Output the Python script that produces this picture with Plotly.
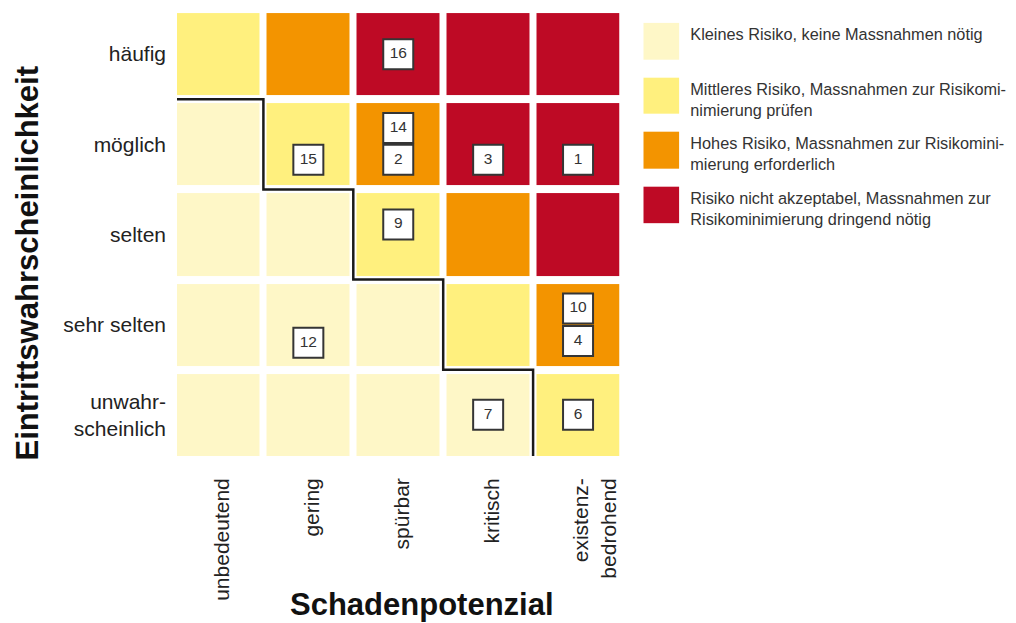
import plotly.graph_objects as go

# ---------------- data ----------------
likelihood = ["unwahr-<br>scheinlich", "sehr selten", "selten", "möglich", "häufig"]  # bottom -> top
damage = ["unbedeutend", "gering", "spürbar", "kritisch", "\u00a0<br>existenz-<br>bedrohend"]

# risk level per cell (0 = klein, 1 = mittel, 2 = hoch, 3 = nicht akzeptabel), rows bottom -> top
risk_level = [
    [0, 0, 0, 0, 1],   # unwahrscheinlich
    [0, 0, 0, 1, 2],   # sehr selten
    [0, 0, 1, 2, 3],   # selten
    [0, 1, 2, 3, 3],   # möglich
    [1, 2, 3, 3, 3],   # häufig
]

level_labels = [
    "Kleines Risiko, keine Massnahmen nötig<br>\u00a0",
    "Mittleres Risiko, Massnahmen zur Risikomi-<br>nimierung prüfen",
    "Hohes Risiko, Massnahmen zur Risikomini-<br>mierung erforderlich",
    "Risiko nicht akzeptabel, Massnahmen zur<br>Risikominimierung dringend nötig",
]

risk_ids = [16, 14, 2, 15, 3, 1, 9, 12, 10, 4, 7, 6]
risk_damage = [2, 2, 2, 1, 3, 4, 2, 1, 4, 4, 3, 4]       # column index
risk_likelihood = [4, 3, 3, 3, 3, 3, 2, 1, 1, 1, 0, 0]   # row index

# ---------------- style ----------------
colors = ["#FEF7C7", "#FFF07E", "#F39400", "#BE0A25"]
FONT = "Liberation Sans, Arial, sans-serif"
# vertical placement of each numbered box inside its cell (data units)
box_shift = {16: 0.0, 14: 0.18, 2: -0.17, 15: -0.17, 3: -0.17, 1: -0.17,
             9: 0.11, 12: -0.2, 10: 0.18, 4: -0.18, 7: 0.0, 6: 0.0}
xlabel_shift = 0.04
legend_label_shift = 0.07

colorscale = []
for i, c in enumerate(colors):
    colorscale += [[i / len(colors), c], [(i + 1) / len(colors), c]]

fig = go.Figure()

fig.add_trace(go.Heatmap(
    z=risk_level, x=list(range(len(damage))), y=list(range(len(likelihood))),
    colorscale=colorscale, zmin=-0.5, zmax=3.5, showscale=False,
    xgap=7, ygap=8, hoverinfo="skip",
))

# staircase boundary of the "klein" zone, derived from the matrix
n_zero = [sum(1 for r in range(len(likelihood)) if risk_level[r][c] == 0) for c in range(len(damage))]
sx, sy = [], []
for c, nz in enumerate(n_zero):
    sx += [c - 0.5, c + 0.5]
    sy += [nz - 0.5, nz - 0.5]
fig.add_trace(go.Scatter(x=sx, y=sy, mode="lines", line=dict(color="#1a1a1a", width=2.5),
                         hoverinfo="skip", showlegend=False))

fig.add_trace(go.Scatter(
    x=risk_damage,
    y=[l + box_shift[i] for l, i in zip(risk_likelihood, risk_ids)],
    mode="markers+text", text=[str(i) for i in risk_ids], textposition="middle center",
    textfont=dict(family=FONT, size=15.5, color="#333333"),
    marker=dict(symbol="square", size=30, color="white", line=dict(color="#353535", width=2)),
    hoverinfo="skip", showlegend=False,
))

# legend as a small heatmap column with labels
fig.add_trace(go.Heatmap(
    z=[[i] for i in range(len(colors))], x=[0], y=list(range(len(colors))),
    colorscale=colorscale, zmin=-0.5, zmax=3.5, showscale=False, ygap=18,
    xaxis="x2", yaxis="y2", hoverinfo="skip",
))

W, H = 1016, 623
L, R, T, B = 177, 16, 13, 167
pw, ph = W - L - R, H - T - B
dx, dy = 0.039, 0.044
dl = 0.165

noaxis = dict(showgrid=False, zeroline=False, showline=False, ticks="", automargin=False)

fig.update_layout(
    width=W, height=H, margin=dict(l=L, r=R, t=T, b=B, autoexpand=False),
    paper_bgcolor="white", plot_bgcolor="white",
    font=dict(family=FONT, color="#222222"),
    showlegend=False,
    xaxis=dict(domain=[0, 442.5 / pw], range=[-0.5 + dx, 4.5 - dx],
               tickvals=[i + xlabel_shift for i in range(len(damage))], ticktext=damage, tickangle=-90,
               tickfont=dict(size=21, color="#222222"), ticklabelstandoff=17, **noaxis),
    yaxis=dict(domain=[0, 1], range=[-0.5 + dy, 4.5 - dy],
               tickvals=list(range(len(likelihood))), ticktext=likelihood,
               tickfont=dict(size=21, color="#222222"), ticklabelstandoff=10, **noaxis),
    xaxis2=dict(domain=[(643.3 - L) / pw, (679.3 - L) / pw], range=[-0.5, 0.5], anchor="y2",
                showticklabels=False, **noaxis),
    yaxis2=dict(domain=[(456 - 223.3) / ph, (456 - 22.7) / ph], range=[3.5 - dl, -0.5 + dl],
                anchor="x2", side="right",
                tickvals=[i + legend_label_shift for i in range(len(colors))], ticktext=level_labels,
                tickfont=dict(size=16.3, color="#333333"), ticklabelstandoff=10, **noaxis),
    annotations=[
        dict(text="<b>Schadenpotenzial</b>", xref="paper", yref="paper",
             x=(422 - L) / pw, y=(456 - 604) / ph, xanchor="center", yanchor="middle",
             showarrow=False, font=dict(size=31, color="#111111", family=FONT)),
        dict(text="<b>Eintrittswahrscheinlichkeit</b>", xref="paper", yref="paper",
             x=(27 - L) / pw, y=(456 - 263.5) / ph, xanchor="center", yanchor="middle",
             textangle=-90, showarrow=False, font=dict(size=31, color="#111111", family=FONT)),
    ],
)

fig.write_html("out.html", config={"displayModeBar": False},
               post_script="document.body.style.margin='0';document.body.style.overflow='hidden';")
